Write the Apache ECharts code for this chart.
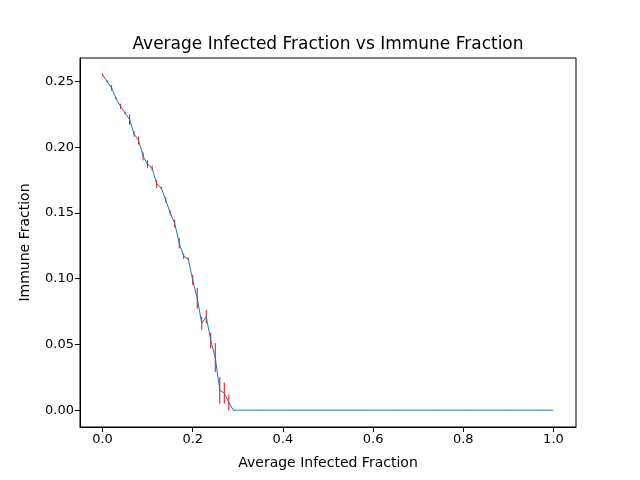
<!DOCTYPE html>
<html>
<head>
<meta charset="utf-8">
<script src="https://cdn.jsdelivr.net/npm/echarts@6/dist/echarts.min.js"></script>
<style>html,body{margin:0;padding:0;background:#fff;}#c{width:640px;height:480px;}</style>
</head>
<body>
<div id="c"></div>
<script>
const immuneX = [0.00,0.01,0.02,0.03,0.04,0.05,0.06,0.07,0.08,0.09,
  0.10,0.11,0.12,0.13,0.14,0.15,0.16,0.17,0.18,0.19,
  0.20,0.21,0.22,0.23,0.24,0.25,0.26,0.27,0.28,0.29,
  0.30,0.31,0.32,0.33,0.34,0.35,0.36,0.37,0.38,0.39,
  0.40,0.41,0.42,0.43,0.44,0.45,0.46,0.47,0.48,0.49,
  0.50,0.51,0.52,0.53,0.54,0.55,0.56,0.57,0.58,0.59,
  0.60,0.61,0.62,0.63,0.64,0.65,0.66,0.67,0.68,0.69,
  0.70,0.71,0.72,0.73,0.74,0.75,0.76,0.77,0.78,0.79,
  0.80,0.81,0.82,0.83,0.84,0.85,0.86,0.87,0.88,0.89,
  0.90,0.91,0.92,0.93,0.94,0.95,0.96,0.97,0.98,0.99,1.00];
const infectedMean = [0.255,0.250,0.245,0.237,0.231,0.226,0.221,0.210,0.205,0.193,
  0.187,0.184,0.172,0.169,0.160,0.150,0.142,0.127,0.117,0.115,
  0.099,0.085,0.066,0.071,0.053,0.040,0.015,0.013,0.006,0.000,
  0,0,0,0,0,0,0,0,0,0,
  0,0,0,0,0,0,0,0,0,0,
  0,0,0,0,0,0,0,0,0,0,
  0,0,0,0,0,0,0,0,0,0,
  0,0,0,0,0,0,0,0,0,0,
  0,0,0,0,0,0,0,0,0,0,
  0,0,0,0,0,0,0,0,0,0,0];
const infectedErr = [0.001,0.001,0.002,0.001,0.002,0.001,0.004,0.002,0.003,0.003,
  0.003,0.002,0.003,0.001,0.002,0.002,0.003,0.004,0.002,0.001,
  0.004,0.008,0.005,0.005,0.006,0.011,0.010,0.008,0.006,0.000,
  0,0,0,0,0,0,0,0,0,0,
  0,0,0,0,0,0,0,0,0,0,
  0,0,0,0,0,0,0,0,0,0,
  0,0,0,0,0,0,0,0,0,0,
  0,0,0,0,0,0,0,0,0,0,
  0,0,0,0,0,0,0,0,0,0,
  0,0,0,0,0,0,0,0,0,0,0];
const xTicks = [0.0,0.2,0.4,0.6,0.8,1.0];
const yTicks = [0.00,0.05,0.10,0.15,0.20,0.25];

const lineData = immuneX.map((x,i)=>[x, infectedMean[i]]);
const errData = immuneX.map((x,i)=>[x, infectedMean[i]-infectedErr[i], infectedMean[i]+infectedErr[i]]);

const font = 'DejaVu Sans';
const chart = echarts.init(document.getElementById('c'), null, {renderer:'canvas'});
chart.setOption({
  animation: false,
  backgroundColor: '#fff',
  title: {
    text: 'Average Infected Fraction vs Immune Fraction',
    left: 323, top: 31, textAlign: 'center',
    textStyle: {fontFamily: font, fontSize: 17, fontWeight: 'normal', color: '#000'}
  },
  grid: {left: 80, right: 64, top: 58, bottom: 53, show: true, borderColor: '#000', borderWidth: 1, backgroundColor: 'transparent'},
  xAxis: {
    type: 'value', min: -0.05, max: 1.05,
    name: 'Average Infected Fraction', nameLocation: 'middle', nameGap: 29,
    nameTextStyle: {fontFamily: font, fontSize: 14, color: '#000'},
    axisLine: {show: true, onZero: false, lineStyle: {color: '#000', width: 1}},
    axisTick: {show: true, inside: false, length: 5, lineStyle: {color: '#000'}, customValues: xTicks},
    axisLabel: {fontFamily: font, fontSize: 13, color: '#000', margin: 6, customValues: xTicks, formatter: v => v.toFixed(1)},
    splitLine: {show: false}
  },
  yAxis: {
    type: 'value', min: -0.0128, max: 0.2678,
    name: 'Immune Fraction', nameLocation: 'middle', nameGap: 48,
    nameTextStyle: {fontFamily: font, fontSize: 14, color: '#000'},
    axisLine: {show: true, onZero: false, lineStyle: {color: '#000', width: 1}},
    axisTick: {show: true, inside: false, length: 5, lineStyle: {color: '#000'}, customValues: yTicks},
    axisLabel: {fontFamily: font, fontSize: 13, color: '#000', margin: 6, customValues: yTicks, formatter: v => v.toFixed(2)},
    splitLine: {show: false}
  },
  series: [
    {
      type: 'custom', z: 1,
      data: errData,
      renderItem: function(params, api) {
        const lo = api.coord([api.value(0), api.value(1)]);
        const hi = api.coord([api.value(0), api.value(2)]);
        return {type: 'line', shape: {x1: lo[0], y1: lo[1], x2: hi[0], y2: hi[1]},
          style: {stroke: '#ff0000', lineWidth: 1}};
      }
    },
    {
      type: 'line', z: 2, data: lineData, showSymbol: false, symbol: 'none',
      lineStyle: {color: '#1f77b4', width: 1}, itemStyle: {color: '#1f77b4'}
    }
  ]
});
</script>
</body>
</html>
